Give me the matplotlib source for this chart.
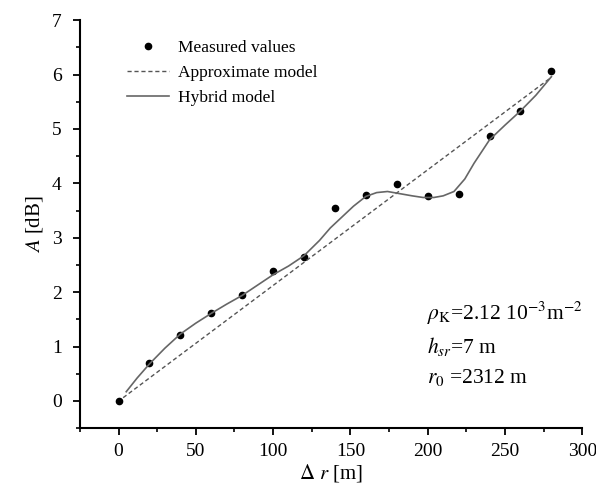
import matplotlib
matplotlib.use('Agg')
import matplotlib.pyplot as plt
from matplotlib.ticker import MultipleLocator

plt.rcParams['font.family'] = ['Liberation Serif', 'DejaVu Serif']
plt.rcParams['mathtext.fontset'] = 'stix'

# measured points
dr_meas = [0, 20, 40, 60, 80, 100, 120, 140, 160, 180, 200, 220, 240, 260, 280]
a_meas = [0.0, 0.69, 1.22, 1.62, 1.94, 2.38, 2.65, 3.55, 3.78, 3.99, 3.77, 3.80, 4.87, 5.33, 6.07]

# approximate model (straight line)
dr_approx = [3, 280]
a_approx = [0.06, 5.95]

# hybrid model curve
dr_hyb = [5, 12, 20, 30, 40, 50, 60, 70, 80, 90, 100, 110, 120, 130, 137, 146, 152,
          160, 167, 174, 180, 190, 197, 204, 210, 217, 224, 230, 240, 250, 260, 270, 280]
a_hyb = [0.17, 0.42, 0.68, 0.97, 1.23, 1.43, 1.61, 1.78, 1.94, 2.13, 2.32, 2.48, 2.67,
         2.95, 3.18, 3.42, 3.58, 3.76, 3.83, 3.85, 3.82, 3.77, 3.74, 3.74, 3.77, 3.85,
         4.08, 4.37, 4.80, 5.07, 5.33, 5.62, 5.96]

fig = plt.figure(figsize=(5.96, 4.91), dpi=100)
ax = fig.add_axes([0.134, 0.128, 0.843, 0.831])

ax.plot(dr_meas, a_meas, 'o', color='black', markersize=4.5, label='Measured values')
ax.plot(dr_approx, a_approx, linestyle=(0, (3, 2)), color='#555555', lw=1.0,
        label='Approximate model')
ax.plot(dr_hyb, a_hyb, '-', color='#666666', lw=1.2, label='Hybrid model')

ax.set_xlim(-25, 300)
ax.set_ylim(-0.5, 7)
ax.xaxis.set_major_locator(MultipleLocator(50))
ax.xaxis.set_minor_locator(MultipleLocator(25))
ax.yaxis.set_major_locator(MultipleLocator(1))
ax.yaxis.set_minor_locator(MultipleLocator(0.5))
ax.spines['top'].set_visible(False)
ax.spines['right'].set_visible(False)
for s in ['left', 'bottom']:
    ax.spines[s].set_linewidth(1.5)
ax.tick_params(which='major', direction='out', length=5, width=1.3, labelsize=14)
ax.tick_params(which='minor', direction='out', length=3, width=1.2)
ax.tick_params(axis='x', pad=6)
ax.tick_params(axis='y', pad=8)

ax.set_xlabel(r'$\mathit{\Delta\ r}$ [m]', fontsize=15, labelpad=1)
ax.set_ylabel(r'$\mathit{A}$ [dB]', fontsize=15, labelpad=5)

ax.legend(loc='upper left', bbox_to_anchor=(0.063, 0.99), frameon=False, fontsize=12.5,
          handlelength=2.4, handletextpad=0.55, labelspacing=0.5)

ax.text(0.69, 0.265, r'$\rho_{\rm K}$=2.12 10$^{-3}$m$^{-2}$', transform=ax.transAxes,
        fontsize=15.5)
ax.text(0.69, 0.184, r'$h_{sr}$=7 m', transform=ax.transAxes, fontsize=15.5)
ax.text(0.69, 0.11, r'$r_0$ =2312 m', transform=ax.transAxes, fontsize=15.5)

fig.savefig('out.png', dpi=100)
